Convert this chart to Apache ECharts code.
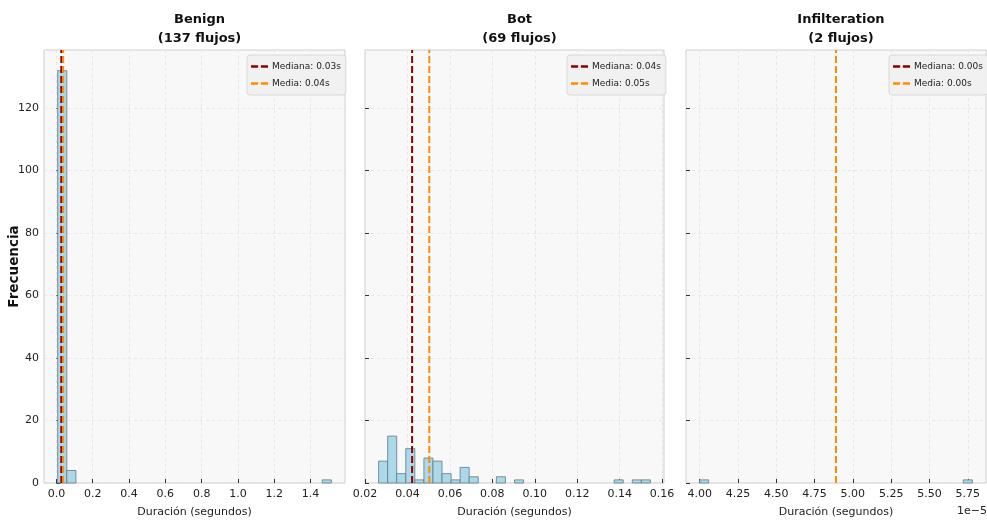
<!DOCTYPE html>
<html><head><meta charset="utf-8">
<script src="https://cdn.jsdelivr.net/npm/echarts@6/dist/echarts.min.js"></script>
<style>html,body{margin:0;padding:0;background:#fff}#c{width:987px;height:520px}</style>
</head><body><div id="c"></div>
<script>
// ---- data ----
const panelNames = ['Benign', 'Bot', 'Infilteration'];
const flowCounts = [137, 69, 2];
// histogram range (seconds) and counts (30 bins each)
const benignRange = [0.007, 1.514];
const benignCounts = [132,4,0,0,0,0,0,0,0,0,0,0,0,0,0,0,0,0,0,0,0,0,0,0,0,0,0,0,0,1];
const botRange = [0.0264, 0.1545];
const botCounts = [7,15,3,11,1,8,7,3,1,5,2,0,0,2,0,1,0,0,0,0,0,0,0,0,0,0,1,0,1,1];
const infilRange = [4.00e-5, 5.78e-5];
const infilCounts = [1,0,0,0,0,0,0,0,0,0,0,0,0,0,0,0,0,0,0,0,0,0,0,0,0,0,0,0,0,1];
const medians = [0.027, 0.0422, 4.89e-5];
const means = [0.037, 0.0503, 4.89e-5];
const medianLabels = ['Mediana: 0.03s', 'Mediana: 0.04s', 'Mediana: 0.00s'];
const meanLabels = ['Media: 0.04s', 'Media: 0.05s', 'Media: 0.00s'];
const benignTicks = [0, 0.2, 0.4, 0.6, 0.8, 1.0, 1.2, 1.4];
const botTicks = [0.02, 0.04, 0.06, 0.08, 0.10, 0.12, 0.14, 0.16];
const infilTicks = [4.00e-5, 4.25e-5, 4.50e-5, 4.75e-5, 5.00e-5, 5.25e-5, 5.50e-5, 5.75e-5];
const yTicks = [0, 20, 40, 60, 80, 100, 120];

// ---- layout ----
const FONT = "'DejaVu Sans',sans-serif";
const grids = [
  {left: 44, top: 50, width: 301, height: 433},
  {left: 365, top: 50, width: 299, height: 433},
  {left: 686, top: 50, width: 300, height: 433}
];
const ranges = [benignRange, botRange, infilRange];
const counts = [benignCounts, botCounts, infilCounts];
const xTicks = [benignTicks, botTicks, infilTicks];
const yMax = Math.max(...counts.map(c => Math.max(...c))) * 1.05;
const fmts = [v => (+v).toFixed(1), v => (+v).toFixed(2), v => (v * 1e5).toFixed(2)];
const legendIcon = 'path://M0,0H8V3H0Z M11,0H19V3H11Z';

const option = {
  backgroundColor: '#fff',
  animation: false,
  textStyle: {fontFamily: FONT},
  grid: grids.map(g => Object.assign({show: true, outerBoundsMode: 'none', containLabel: false,
    backgroundColor: '#f8f8f8', borderColor: '#cfcfcf', borderWidth: 1}, g)),
  title: grids.map((g, i) => ({
    text: panelNames[i] + '\n(' + flowCounts[i] + ' flujos)',
    left: g.left + g.width / 2, top: 5, textAlign: 'center',
    textStyle: {fontFamily: FONT, fontWeight: 'bold', fontSize: 13, lineHeight: 19, color: '#111'}
  })),
  legend: grids.map((g, i) => ({
    orient: 'vertical', left: [247, 567, 889][i], top: 55,
    data: [
      {name: medianLabels[i], icon: legendIcon, itemStyle: {color: '#8b0000'}},
      {name: meanLabels[i], icon: legendIcon, itemStyle: {color: '#ff8c00'}}
    ],
    itemWidth: 17, itemHeight: 3, itemGap: 8,
    backgroundColor: 'rgba(240,240,240,0.95)', borderColor: '#d8d8d8', borderWidth: 1, borderRadius: 3,
    padding: [7, 5, 7, 4],
    textStyle: {fontFamily: FONT, fontSize: 9, color: '#222', padding: [0, 0, 0, -1]}
  })),
  xAxis: grids.map((g, i) => {
    const r = ranges[i], span = r[1] - r[0];
    return {
      type: 'value', gridIndex: i,
      min: r[0] - 0.05 * span, max: r[1] + 0.05 * span,
      name: 'Duración (segundos)', nameLocation: 'middle', nameGap: 24, nameMoveOverlap: false,
      nameTextStyle: {fontFamily: FONT, fontSize: 11, color: '#222'},
      axisLine: {show: false},
      axisTick: {show: true, inside: true, length: 4, lineStyle: {color: '#333'}, customValues: xTicks[i]},
      axisLabel: {fontFamily: FONT, fontSize: 11, color: '#222', margin: 6, formatter: fmts[i], customValues: xTicks[i]},
      splitLine: {show: true, lineStyle: {color: '#e2e2e2', type: [3, 3], width: 0.8}}
    };
  }),
  yAxis: grids.map((g, i) => ({
    type: 'value', gridIndex: i, min: 0, max: yMax, interval: 20,
    name: i === 0 ? 'Frecuencia' : '', nameLocation: 'middle', nameGap: 23, nameMoveOverlap: false,
    nameTextStyle: {fontFamily: FONT, fontSize: 13.5, fontWeight: 'bold', color: '#111'},
    axisLine: {show: false},
    axisTick: {show: true, inside: true, length: 4, lineStyle: {color: '#333'}, customValues: yTicks},
    axisLabel: {show: i === 0, fontFamily: FONT, fontSize: 11, color: '#222', margin: 5, customValues: yTicks},
    splitLine: {show: true, lineStyle: {color: '#e2e2e2', type: [3, 3], width: 0.8}}
  })),
  graphic: [{
    type: 'text', left: 957, top: 506,
    style: {text: '1e\u22125', font: '11px ' + FONT, fill: '#222'}
  }],
  series: []
};

grids.forEach((g, i) => {
  const r = ranges[i], c = counts[i], w = (r[1] - r[0]) / c.length;
  const data = c.map((n, k) => [r[0] + k * w, r[0] + (k + 1) * w, n]);
  option.series.push({
    type: 'custom', xAxisIndex: i, yAxisIndex: i, z: 2,
    data: data,
    renderItem: (params, api) => {
      const n = api.value(2);
      if (!n) return null;
      const p0 = api.coord([api.value(0), n]);
      const p1 = api.coord([api.value(1), 0]);
      return {type: 'rect', shape: {x: p0[0], y: p0[1], width: p1[0] - p0[0], height: p1[1] - p0[1]},
        style: {fill: '#acd8ea', stroke: '#5d7c88', lineWidth: 0.8}};
    }
  });
  option.series.push({
    type: 'line', name: medianLabels[i], xAxisIndex: i, yAxisIndex: i, z: 5,
    data: [[medians[i], 0], [medians[i], yMax]], symbol: 'none', silent: true,
    lineStyle: {color: '#8b0000', width: 2, type: [7, 3]}, itemStyle: {color: '#8b0000'}
  });
  option.series.push({
    type: 'line', name: meanLabels[i], xAxisIndex: i, yAxisIndex: i, z: 6,
    data: [[means[i], 0], [means[i], yMax]], symbol: 'none', silent: true,
    lineStyle: {color: '#ff8c00', width: 2, type: [7, 3]}, itemStyle: {color: '#ff8c00'}
  });
});

const chart = echarts.init(document.getElementById('c'), null, {renderer: 'canvas'});
chart.setOption(option);
</script></body></html>
